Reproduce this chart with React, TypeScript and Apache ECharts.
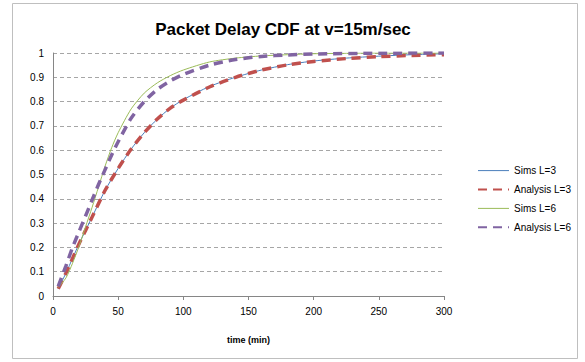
import React, { useEffect, useRef } from "react";
import * as echarts from "echarts";

const xL3 = [4, 10, 15, 20, 25, 30, 40, 50, 60, 70, 80, 90, 100, 120, 140, 160, 180, 200, 225, 250, 275, 300];
const simsL3 = [0.03, 0.095, 0.155, 0.215, 0.27, 0.325, 0.435, 0.525, 0.605, 0.672, 0.728, 0.773, 0.808, 0.862, 0.9, 0.93, 0.952, 0.967, 0.979, 0.987, 0.993, 0.997];
const analysisL3 = [0.03, 0.095, 0.155, 0.215, 0.27, 0.325, 0.435, 0.525, 0.605, 0.672, 0.728, 0.773, 0.806, 0.86, 0.9, 0.93, 0.951, 0.965, 0.977, 0.985, 0.99, 0.993];
const xL6 = [4, 10, 15, 20, 25, 30, 35, 40, 45, 50, 60, 70, 80, 90, 100, 120, 140, 160, 180, 200, 250, 300];
const simsL6 = [0.035, 0.075, 0.135, 0.205, 0.285, 0.365, 0.45, 0.535, 0.61, 0.672, 0.77, 0.835, 0.877, 0.907, 0.93, 0.963, 0.979, 0.988, 0.993, 0.997, 1.0, 1.0];
const analysisL6 = [0.04, 0.125, 0.2, 0.265, 0.33, 0.395, 0.46, 0.52, 0.58, 0.635, 0.732, 0.8, 0.85, 0.885, 0.912, 0.95, 0.973, 0.986, 0.992, 0.996, 0.999, 1.0];

const seriesNames = ["Sims L=3", "Analysis L=3", "Sims L=6", "Analysis L=6"];
const seriesColors = ["#4a7ebb", "#c0504d", "#9bbb59", "#8064a2"];
const titleText = "Packet Delay CDF at v=15m/sec";
const xAxisName = "time (min)";

const zip = (xs: number[], ys: number[]) => xs.map((x, i) => [x, ys[i]]);

export default function App() {
  const ref = useRef<HTMLDivElement>(null);
  useEffect(() => {
    document.body.style.margin = "0";
    const chart = echarts.init(ref.current!, null, { renderer: "svg" });
    const font = "'Liberation Sans', Arial, sans-serif";
    const isDashed = (i: number) => i % 2 === 1;
    chart.setOption({
      animation: false,
      backgroundColor: "#ffffff",
      textStyle: { fontFamily: font },
      title: {
        text: titleText,
        left: 278,
        top: 16,
        textAlign: "center",
        textStyle: { fontSize: 17, fontWeight: "bold", color: "#000", fontFamily: font },
      },
      graphic: [
        {
          type: "rect",
          shape: { x: 12.5, y: 3.5, width: 565, height: 355 },
          style: { fill: "none", stroke: "#bfbfbf", lineWidth: 1 },
          z: -1,
        },
      ],
      legend: {
        orient: "vertical",
        left: 472,
        top: 160,
        itemWidth: 31,
        itemHeight: 14,
        itemGap: 7.7,
        itemStyle: { opacity: 0 },
        data: seriesNames.map((name, i) =>
          isDashed(i) ? { name } : { name, lineStyle: { width: 1 } }
        ),
        textStyle: { fontSize: 10, color: "#000", fontFamily: font },
      },
      grid: { left: 53, right: 141, top: 53, bottom: 66, containLabel: false },
      xAxis: {
        type: "value",
        min: 0,
        max: 300,
        interval: 50,
        name: xAxisName,
        nameLocation: "middle",
        nameGap: 39,
        nameTextStyle: { fontSize: 9, fontWeight: "bold", color: "#000" },
        axisLine: { lineStyle: { color: "#868686" } },
        axisTick: { show: true, length: 4, lineStyle: { color: "#868686" } },
        axisLabel: { fontSize: 10, color: "#000", margin: 10 },
        splitLine: { show: false },
      },
      yAxis: {
        type: "value",
        min: 0,
        max: 1,
        interval: 0.1,
        axisLine: { show: true, lineStyle: { color: "#868686" } },
        axisTick: { show: false },
        axisLabel: {
          fontSize: 10,
          color: "#000",
          margin: 9,
          formatter: (v: number) => String(Number(v.toFixed(1))),
        },
        splitLine: { show: true, lineStyle: { color: "#a6a6a6", type: [4, 3], width: 1 } },
      },
      series: [
        {
          name: seriesNames[0],
          type: "line",
          data: zip(xL3, simsL3),
          smooth: 0.25,
          symbol: "none",
          lineStyle: { color: seriesColors[0], width: 1 },
          itemStyle: { color: seriesColors[0] },
        },
        {
          name: seriesNames[1],
          type: "line",
          data: zip(xL3, analysisL3),
          smooth: 0.25,
          symbol: "none",
          lineStyle: { color: seriesColors[1], width: 3.5, type: [9, 6] },
          itemStyle: { color: seriesColors[1] },
        },
        {
          name: seriesNames[2],
          type: "line",
          data: zip(xL6, simsL6),
          smooth: 0.25,
          symbol: "none",
          lineStyle: { color: seriesColors[2], width: 1 },
          itemStyle: { color: seriesColors[2] },
        },
        {
          name: seriesNames[3],
          type: "line",
          data: zip(xL6, analysisL6),
          smooth: 0.25,
          symbol: "none",
          lineStyle: { color: seriesColors[3], width: 3.5, type: [9, 6] },
          itemStyle: { color: seriesColors[3] },
        },
      ],
    });
    return () => chart.dispose();
  }, []);
  return <div ref={ref} style={{ width: 585, height: 362 }} />;
}
